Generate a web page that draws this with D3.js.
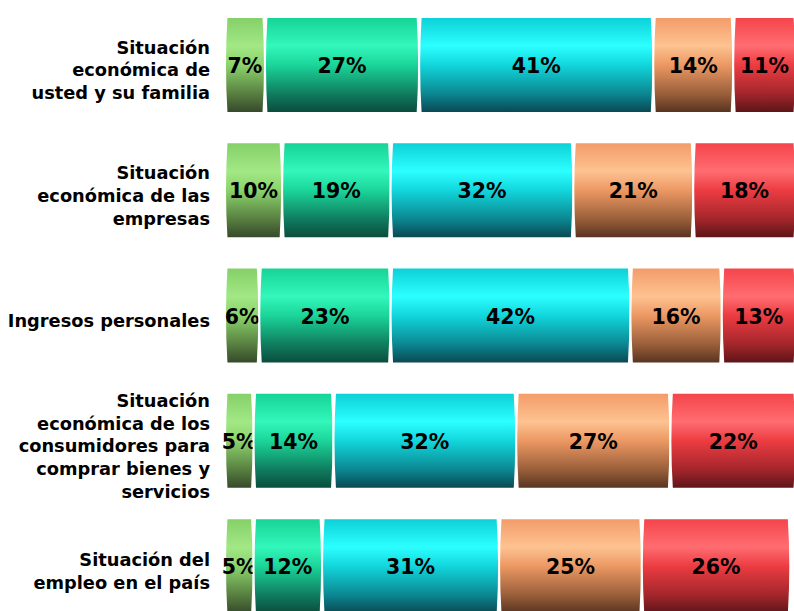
<!DOCTYPE html>
<html>
<head>
<meta charset="utf-8">
<script src="https://cdn.jsdelivr.net/npm/d3@7"></script>
<style>
  body { margin: 0; background: #fff; }
  svg { display: block; }
</style>
</head>
<body>
<svg width="794" height="611"></svg>
<script>
// categories (one bar each) and answer groups
var categories = [
  ["Situación", "económica de", "usted y su familia"],
  ["Situación", "económica de las", "empresas"],
  ["Ingresos personales"],
  ["Situación", "económica de los", "consumidores para", "comprar bienes y", "servicios"],
  ["Situación del", "empleo en el país"]
];
var groups = ["g1", "g2", "g3", "g4", "g5"];

// percentages per group, in category order
var g1 = [7, 10, 6, 5, 5];
var g2 = [27, 19, 23, 14, 12];
var g3 = [41, 32, 42, 32, 31];
var g4 = [14, 21, 16, 27, 25];
var g5 = [11, 18, 13, 22, 26];

var colors = {
  g1: ["#84cf67", "#a2e885", "#8bd36c", "#587f40", "#34472a"],
  g2: ["#16d295", "#33f7bb", "#1bd599", "#0f7d5f", "#0a4a3b"],
  g3: ["#0ccfd6", "#2cffff", "#12d6dc", "#0b8791", "#0a4550"],
  g4: ["#f39a68", "#fdc391", "#ec9863", "#9a5f3a", "#55321f"],
  g5: ["#f4434a", "#ff6d71", "#ec3c42", "#a3262b", "#5a1418"]
};

var svg = d3.select("svg");
var keys = categories.map(function(d, i) { return "c" + i; });

var rows = keys.map(function(k, i) {
  return { key: k, g1: g1[i], g2: g2[i], g3: g3[i], g4: g4[i], g5: g5[i] };
});

var x = d3.scaleLinear().domain([0, 100]).range([225, 796]);
var y = d3.scaleBand().domain(keys).range([2.3, 628.8]).paddingInner(0.234).paddingOuter(0.117);

// cylinder gradients
var defs = svg.append("defs");
groups.forEach(function(gk) {
  var grad = defs.append("linearGradient")
    .attr("id", "grad-" + gk)
    .attr("x1", 0).attr("y1", 0).attr("x2", 0).attr("y2", 1);
  var offs = [0, 0.3, 0.5, 0.8, 1];
  colors[gk].forEach(function(c, i) {
    grad.append("stop").attr("offset", offs[i]).attr("stop-color", c);
  });
});

var stack = d3.stack().keys(groups);
var series = stack(rows);

// segment with slightly rounded (barrel) ends
function segPath(x0, x1, y0, y1) {
  var b = 1.5, ym = (y0 + y1) / 2;
  return "M" + (x0 + b) + "," + y0 +
    "L" + (x1 - b) + "," + y0 +
    "Q" + (x1 + b) + "," + ym + " " + (x1 - b) + "," + y1 +
    "L" + (x0 + b) + "," + y1 +
    "Q" + (x0 - b) + "," + ym + " " + (x0 + b) + "," + y0 + "Z";
}

var layer = svg.selectAll(".layer")
  .data(series)
  .enter().append("g")
  .attr("class", "layer");

layer.selectAll("path")
  .data(function(s) { return s.map(function(d) { d.gk = s.key; return d; }); })
  .enter().append("path")
  .attr("d", function(d) {
    return segPath(x(d[0]), x(d[1]), y(d.data.key), y(d.data.key) + y.bandwidth());
  })
  .attr("fill", function(d) { return "url(#grad-" + d.gk + ")"; })
  .attr("stroke", "#fff")
  .attr("stroke-width", 2);

// value labels
layer.selectAll("text")
  .data(function(s) { return s; })
  .enter().append("text")
  .attr("x", function(d) { return (x(d[0]) + x(d[1])) / 2; })
  .attr("y", function(d) { return y(d.data.key) + y.bandwidth() / 2 + 1; })
  .attr("text-anchor", "middle")
  .attr("dominant-baseline", "central")
  .style("font-family", "'DejaVu Sans', sans-serif")
  .style("font-weight", "bold")
  .style("font-size", "20.5px")
  .attr("fill", "#000")
  .text(function(d) { return (d[1] - d[0]) + "%"; });

// category labels
var lineH = 22.8;
var lab = svg.selectAll(".cat")
  .data(categories)
  .enter().append("text")
  .attr("class", "cat")
  .attr("text-anchor", "end")
  .style("font-family", "'DejaVu Sans', sans-serif")
  .style("font-weight", "bold")
  .style("font-size", "17.8px")
  .attr("fill", "#000");

lab.each(function(lines, i) {
  var cy = y(keys[i]) + y.bandwidth() / 2 + 5;
  var top = cy - (lines.length - 1) * lineH / 2;
  d3.select(this).selectAll("tspan")
    .data(lines)
    .enter().append("tspan")
    .attr("x", 210)
    .attr("y", function(d, j) { return top + j * lineH; })
    .attr("dominant-baseline", "central")
    .text(function(d) { return d; });
});
</script>
</body>
</html>
